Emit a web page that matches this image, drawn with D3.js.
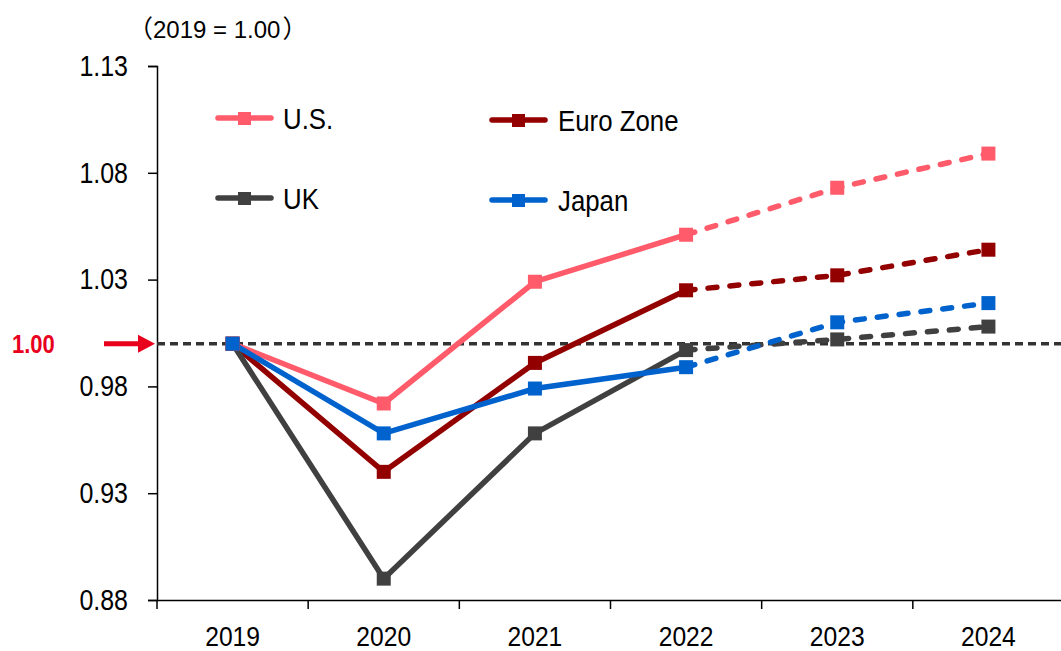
<!DOCTYPE html>
<html><head><meta charset="utf-8">
<script src="https://cdn.jsdelivr.net/npm/d3@7"></script>
<style>
body{margin:0;background:#fff;}
text{font-family:"Liberation Sans",Arial,sans-serif;}
</style></head>
<body><svg id="c" width="1061" height="651"></svg>
<script>
const years = ["2019","2020","2021","2022","2023","2024"];
const yTicks = [0.88,0.93,0.98,1.03,1.08,1.13];
const usValues = [1.000,0.972,1.029,1.051,1.073,1.089];
const euroValues = [1.000,0.940,0.991,1.025,1.032,1.044];
const ukValues = [1.000,0.890,0.958,0.997,1.002,1.008];
const japanValues = [1.000,0.958,0.979,0.989,1.010,1.019];
const seriesNames = ["U.S.","Euro Zone","UK","Japan"];
const seriesColors = ["#ff5b6b","#930000","#404040","#0062cc"];
const actualLastIndex = 3; // 2022 is last actual; 2022-2024 dashed
const baseValue = 1.00;
const titleText = "2019 = 1.00";

(function(){
const series = [usValues, euroValues, ukValues, japanValues].map((v,i)=>({name:seriesNames[i], color:seriesColors[i], values:v}));

const svg = d3.select("#c");
const pLeft=157, pRight=1064, pTop=66, pBottom=600;
const x = d3.scaleBand().domain(years).range([pLeft,pRight]);
const y = d3.scaleLinear().domain([0.88,1.13]).range([pBottom,pTop]);
const cx = d => x(d)+x.bandwidth()/2;
const FF = '"Liberation Sans",Arial,sans-serif';
const CJK = '"Noto Sans CJK JP",sans-serif';
function squeeze(sel, f){
  sel.each(function(){ const w=this.getComputedTextLength(); d3.select(this).attr("textLength",w*f).attr("lengthAdjust","spacingAndGlyphs"); });
}

const yAxis = d3.axisLeft(y).tickValues(yTicks).tickFormat(d3.format(".2f")).tickSize(9).tickPadding(20);
const gy = svg.append("g").attr("transform",`translate(${pLeft},0)`).call(yAxis);
gy.select(".domain").attr("stroke","#000").attr("stroke-width",1.5);
gy.selectAll(".tick line").attr("stroke","#000").attr("stroke-width",1.5);
gy.selectAll(".tick text").attr("font-size",29).attr("fill","#000").style("font-family",FF);
squeeze(gy.selectAll(".tick text"),0.86);

const xAxis = d3.axisBottom(x).tickSize(0).tickPadding(0);
const gx = svg.append("g").attr("transform",`translate(0,${pBottom})`).call(xAxis);
gx.select(".domain").attr("stroke","#000").attr("stroke-width",1.5);
gx.selectAll(".tick text").attr("font-size",28).attr("fill","#000").style("font-family",FF)
  .attr("dy",null).attr("y",46);
squeeze(gx.selectAll(".tick text"),0.88);
svg.append("g").selectAll("line").data(years).enter().append("line")
  .attr("x1",d=>x(d)).attr("x2",d=>x(d)).attr("y1",pBottom).attr("y2",pBottom+9)
  .attr("stroke","#000").attr("stroke-width",1.5);

// title: separate pieces
svg.append("text").attr("x",153).attr("y",38).attr("text-anchor","end").attr("font-size",25).attr("fill","#000")
  .style("font-family",CJK).text("（");
const tmid = svg.append("text").attr("x",153).attr("y",38).attr("font-size",24).attr("fill","#000")
  .style("font-family",FF).text(titleText);
const tw = tmid.node().getComputedTextLength();
svg.append("text").attr("x",153+tw+2).attr("y",38).attr("font-size",25).attr("fill","#000")
  .style("font-family",CJK).text("）");

svg.append("line").attr("x1",pLeft).attr("x2",1061).attr("y1",y(baseValue)).attr("y2",y(baseValue))
  .attr("stroke","#333").attr("stroke-width",3.5).attr("stroke-dasharray","8,5");

const lab = svg.append("text").attr("x",12).attr("y",y(baseValue)+9).attr("font-size",25).attr("font-weight","bold")
  .attr("fill","#e8001c").style("font-family",FF).text("1.00");
squeeze(lab,0.88);
svg.append("line").attr("x1",104).attr("x2",140).attr("y1",y(baseValue)).attr("y2",y(baseValue))
  .attr("stroke","#e8001c").attr("stroke-width",5);
svg.append("path").attr("d",`M${pLeft-2},${y(baseValue)} L${138},${y(baseValue)-9} L${138},${y(baseValue)+9} Z`).attr("fill","#e8001c");

const g = svg.append("g");
series.forEach(s=>{
  const pts = s.values.map((v,i)=>({v,i}));
  const solid = pts.filter(p=>p.i<=actualLastIndex);
  const dashed = pts.filter(p=>p.i>=actualLastIndex);
  const l = d3.line().x(p=>cx(years[p.i])).y(p=>y(p.v));
  g.append("path").attr("d",l(dashed)).attr("fill","none").attr("stroke",s.color)
    .attr("stroke-width",5.5).attr("stroke-dasharray","9,13").attr("stroke-linecap","round");
  g.append("path").attr("d",l(solid)).attr("fill","none").attr("stroke",s.color)
    .attr("stroke-width",5.5).attr("stroke-linejoin","miter");
});
[2,1,0,3].forEach(k=>{
  const s=series[k];
  g.append("g").selectAll("rect").data(s.values).enter().append("rect")
    .attr("x",(d,i)=>cx(years[i])-7).attr("y",d=>y(d)-7).attr("width",14).attr("height",14)
    .attr("fill",s.color);
});

const legendPos = [[218,118],[492,120],[218,198],[492,200]];
const textX = [283,558,283,558];
series.forEach((s,i)=>{
  const [lx,ly]=legendPos[i];
  const lg = svg.append("g");
  lg.append("line").attr("x1",lx).attr("x2",lx+53).attr("y1",ly).attr("y2",ly)
    .attr("stroke",s.color).attr("stroke-width",5.5).attr("stroke-linecap","round");
  lg.append("rect").attr("x",lx+20).attr("y",ly-6).attr("width",13).attr("height",13).attr("fill",s.color);
  const t = lg.append("text").attr("x",textX[i]).attr("y",ly+11).attr("font-size",29).attr("fill","#000").text(s.name);
  squeeze(t,0.89);
});
})();
</script></body></html>
